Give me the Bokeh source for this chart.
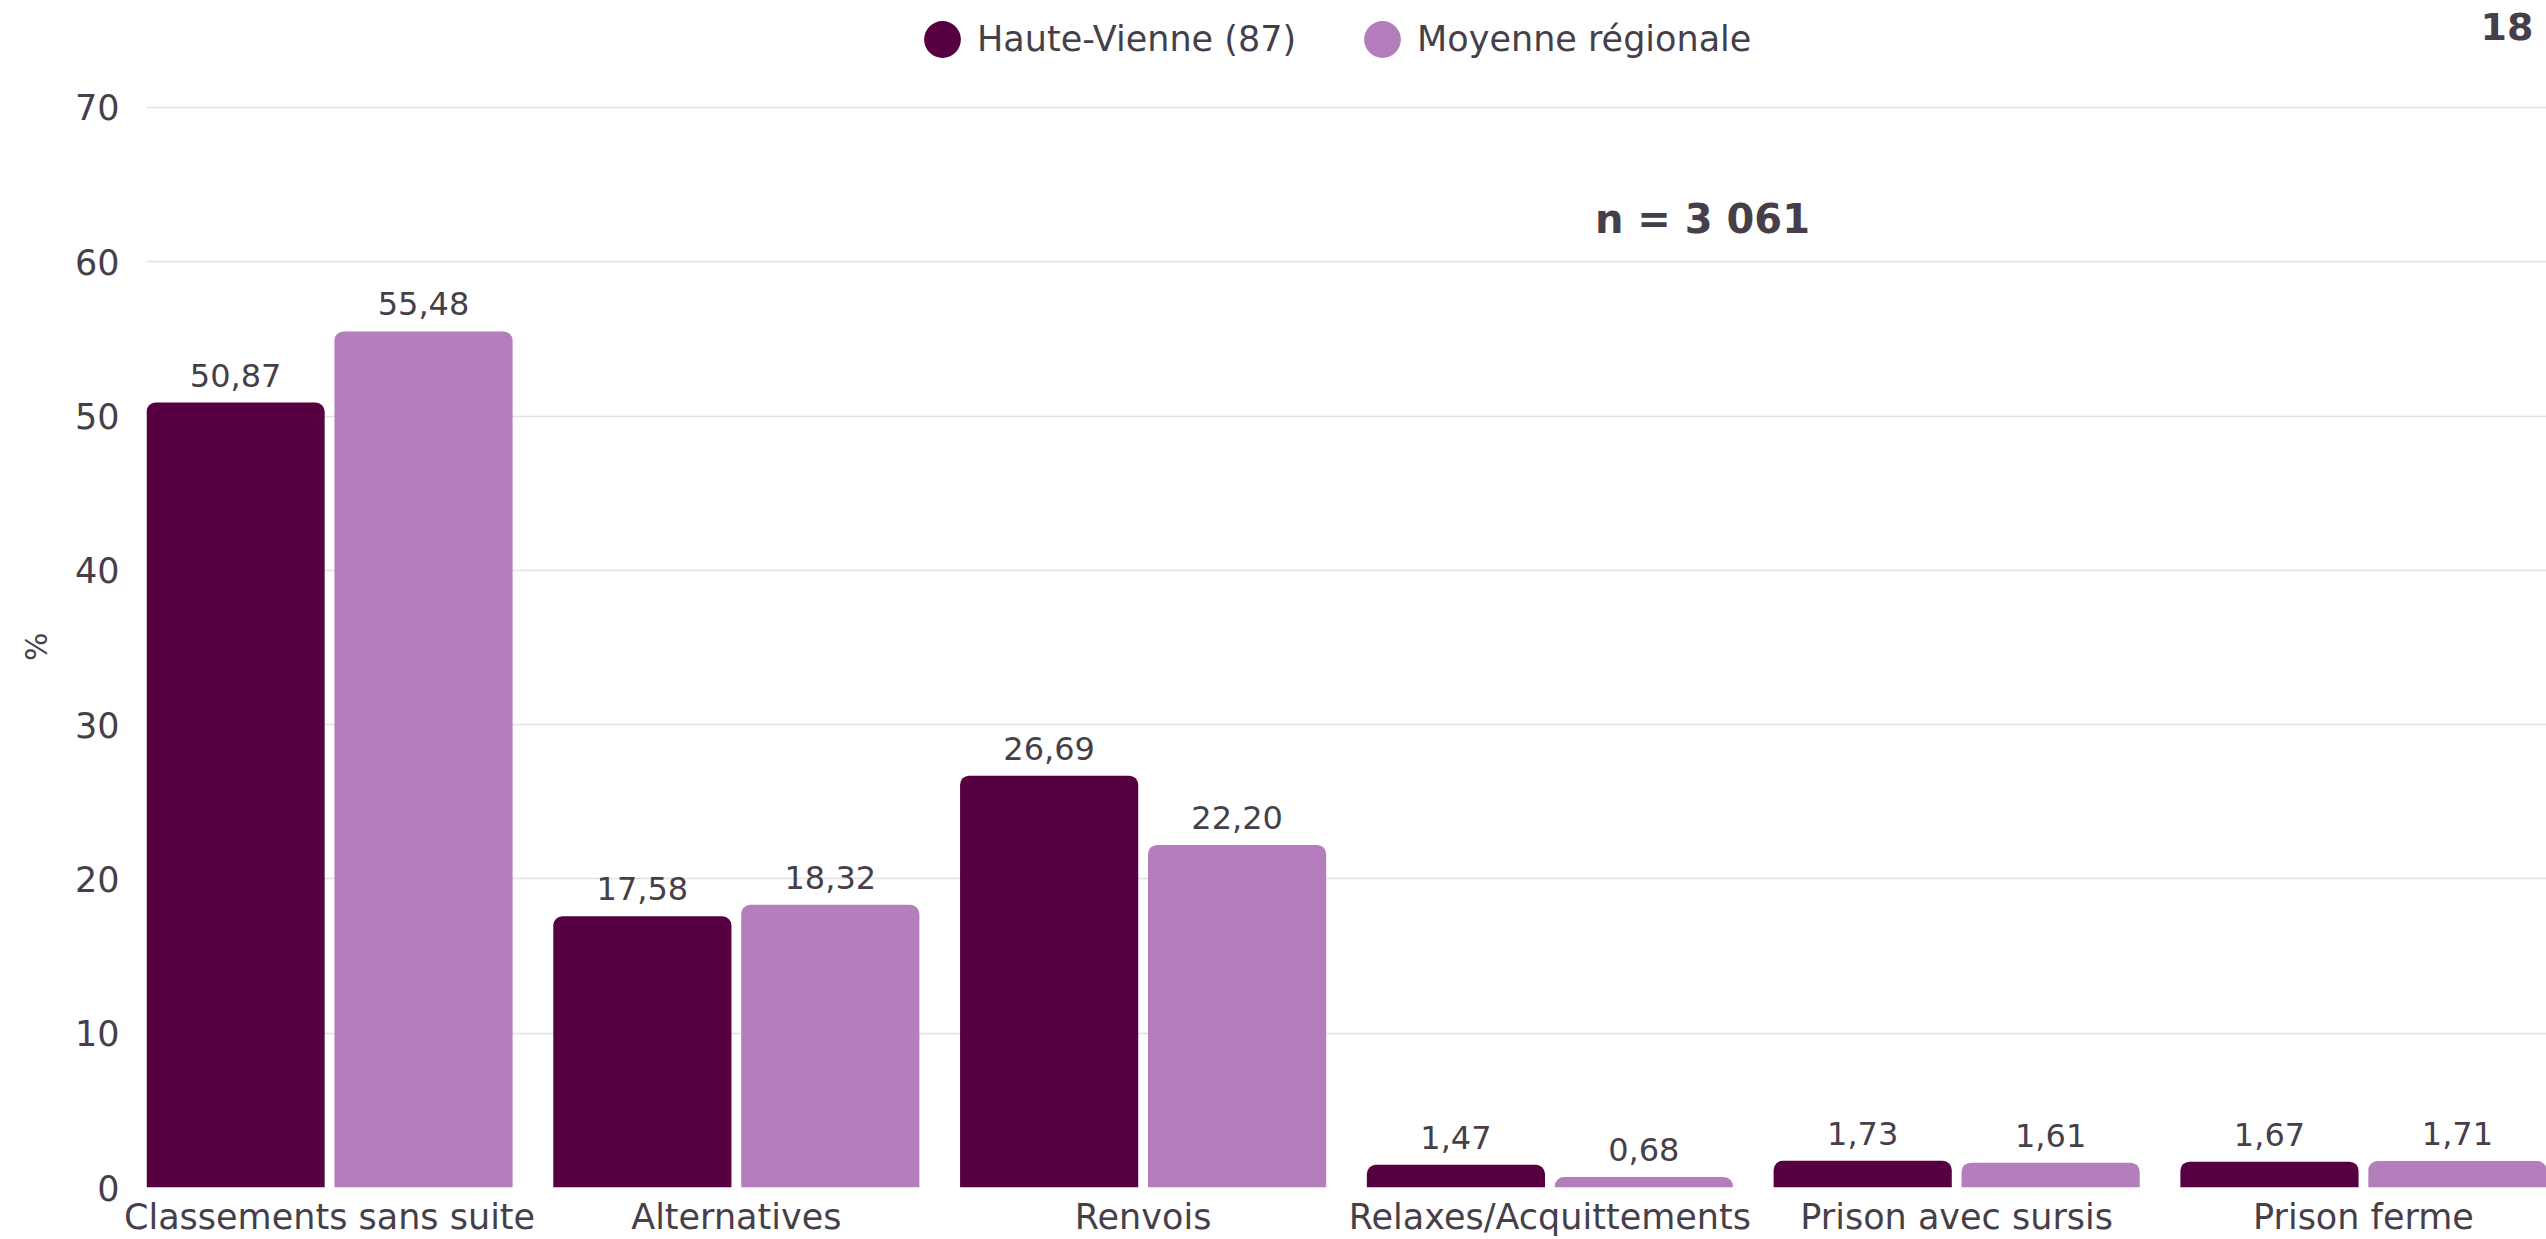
from bokeh.plotting import figure
from bokeh.models import (ColumnDataSource, FactorRange, Range1d, FixedTicker,
                          Legend, LegendItem, Label, LabelSet, Title)
from bokeh.transform import dodge
from bokeh.core.properties import value
from bokeh.embed import file_html
from bokeh.resources import INLINE

# ---- data ----
categories = ["Classements sans suite", "Alternatives", "Renvois",
              "Relaxes/Acquittements", "Prison avec sursis", "Prison ferme"]
haute_vienne = [50.87, 17.58, 26.69, 1.47, 1.73, 1.67]
moyenne_regionale = [55.48, 18.32, 22.20, 0.68, 1.61, 1.71]
series_names = ["Haute-Vienne (87)", "Moyenne régionale"]
y_ticks = [0, 10, 20, 30, 40, 50, 60, 70]
y_title = "%"
n_label = "n = 3 061"
page_number = "18"

# ---- style ----
FONT = "DejaVu Sans"
TEXT = "#463f4a"
DARK = "#570041"
LIGHT = "#b47ebc"
GRID = "#e2e2e2"


def fr(v):
    return f"{v:.2f}".replace(".", ",")


source = ColumnDataSource(dict(
    cat=categories,
    hv=haute_vienne,
    mr=moyenne_regionale,
    hv_lbl=[fr(v) for v in haute_vienne],
    mr_lbl=[fr(v) for v in moyenne_regionale],
))

p = figure(width=2546, height=1239,
           x_range=FactorRange(factors=categories, range_padding=-0.05,
                               range_padding_units="absolute"),
           y_range=Range1d(0, 76.93),
           output_backend="svg", toolbar_location=None,
           min_border_left=146, min_border_right=0,
           min_border_top=0, min_border_bottom=52)
p.title.visible = False
p.outline_line_color = None
p.background_fill_color = "white"
p.border_fill_color = "white"

off = 0.231
bw = 0.438
p.vbar(x=dodge("cat", -off, range=p.x_range), top="hv", width=bw,
       source=source, fill_color=DARK, line_color=None,
       border_radius=(9, 9, 0, 0))
p.vbar(x=dodge("cat", off, range=p.x_range), top="mr", width=bw,
       source=source, fill_color=LIGHT, line_color=None,
       border_radius=(9, 9, 0, 0))

for col, lbl, dx in (("hv", "hv_lbl", -off), ("mr", "mr_lbl", off)):
    p.add_layout(LabelSet(x=dodge("cat", dx, range=p.x_range), y=col, text=lbl,
                          source=source, text_align="center",
                          text_baseline="alphabetic", y_offset=16,
                          text_font=value(FONT), text_font_size="32px",
                          text_color=TEXT))

# legend-only proxies (circles), not drawn in the plot area
nan = float("nan")
c1 = p.ellipse(x=[categories[0]], y=[nan], width=37, height=37,
               width_units="screen", height_units="screen",
               fill_color=DARK, line_color=None)
c2 = p.ellipse(x=[categories[0]], y=[nan], width=37, height=37,
               width_units="screen", height_units="screen",
               fill_color=LIGHT, line_color=None)
legend = Legend(items=[LegendItem(label=series_names[0], renderers=[c1]),
                       LegendItem(label=series_names[1], renderers=[c2])],
                orientation="horizontal", location=(773, 1125),
                glyph_width=46, glyph_height=46, label_standoff=12,
                spacing=63, padding=0, margin=0,
                border_line_color=None, background_fill_alpha=0,
                label_text_font=FONT, label_text_font_size="35px",
                label_text_color=TEXT)
p.add_layout(legend, "center")

# axes
p.yaxis.ticker = FixedTicker(ticks=y_ticks)
p.yaxis.major_label_text_font = FONT
p.yaxis.major_label_text_font_size = "35px"
p.yaxis.major_label_text_color = TEXT
p.yaxis.major_label_standoff = 21
p.yaxis.major_tick_line_color = None
p.yaxis.minor_tick_line_color = None
p.yaxis.axis_line_color = None

# y-axis title, centred on the 0-70 span
p.add_layout(Title(text=y_title, align="right", offset=632,
                   vertical_align="middle", standoff=33,
                   text_font=FONT, text_font_size="30px",
                   text_font_style="normal", text_color=TEXT), "left")

p.xaxis.major_label_text_font = FONT
p.xaxis.major_label_text_font_size = "35px"
p.xaxis.major_label_text_color = TEXT
p.xaxis.major_label_standoff = 3
p.xaxis.major_tick_line_color = None
p.xaxis.minor_tick_line_color = None
p.xaxis.axis_line_color = None

p.xgrid.grid_line_color = None
p.ygrid.grid_line_color = GRID
p.ygrid.grid_line_width = 1.5

p.add_layout(Label(x=3.875, y=62.8, text=n_label, text_align="center",
                   text_baseline="middle", text_font=FONT,
                   text_font_style="bold", text_font_size="40px",
                   text_color=TEXT))
p.add_layout(Label(x=5.918, y=75.25, text=page_number, text_align="right",
                   text_baseline="middle", text_font=FONT,
                   text_font_style="bold", text_font_size="38px",
                   text_color=TEXT))

open("out.html", "w").write(file_html(p, INLINE))
